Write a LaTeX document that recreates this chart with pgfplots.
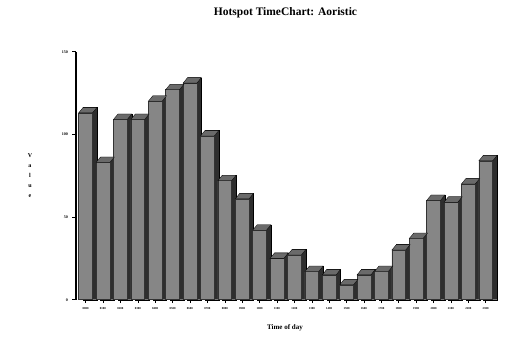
\documentclass[border=0pt]{standalone}
\usepackage{fontspec}
\setmainfont{Liberation Serif}
\usepackage{pgfplots}
\usepackage{pgfplotstable}
\pgfplotsset{compat=1.18}
\definecolor{front}{HTML}{868686}
\definecolor{side}{HTML}{2E2E2E}
\definecolor{topc}{HTML}{6A6A6A}
\pgfdeclareplotmark{bartop}{%
  \pgfpathmoveto{\pgfpoint{-6.9pt}{0pt}}%
  \pgfpathlineto{\pgfpoint{6.9pt}{0pt}}%
  \pgfpathlineto{\pgfpoint{11.4pt}{5.5pt}}%
  \pgfpathlineto{\pgfpoint{-2.4pt}{5.5pt}}%
  \pgfpathclose
  \pgfusepathqfillstroke}
\pgfplotstableread{
x v
0 113
1 83
2 109
3 109
4 120
5 127
6 131
7 99
8 72
9 61
10 42
11 25
12 27
13 17
14 15
15 9
16 15
17 17
18 30
19 37
20 60
21 59
22 70
23 84
}\datatable
\begin{document}
\begin{tikzpicture}
\begin{axis}[
  name=ax,
  scale only axis,
  width=424pt, height=248pt,
  xmin=-0.55, xmax=23.82,
  ymin=0, ymax=150,
  axis x line*=bottom,
  axis y line*=left,
  x axis line style={draw=none},
  y axis line style={draw=black, line width=1pt},
  ytick={0,50,100,150},
  xtick={0,...,23},
  xticklabels={0000,0100,0200,0300,0400,0500,0600,0700,0800,0900,1000,1100,1200,1300,1400,1500,1600,1700,1800,1900,2000,2100,2200,2300},
  tick align=outside,
  major tick length=3.5pt,
  tick style={black, line width=0.5pt},
  /pgf/number format/assume math mode=true,
  yticklabel style={font=\fontsize{4}{4}\selectfont\bfseries, xshift=-1pt},
  xticklabel style={font=\fontsize{3}{3}\selectfont\bfseries, yshift=-0.5pt},
  clip=false,
  extra description/.code={
    \draw[black, line width=1.1pt] (rel axis cs:0,0) -- (rel axis cs:0,1);
  },
]
\addplot[ybar, bar width=13.8pt, bar shift=4.5pt, fill=side, draw=black, line width=0.3pt]
  table[x=x, y expr=\thisrow{v}+3.3] {\datatable};
\addplot[ybar, bar width=13.8pt, bar shift=0pt, fill=front, draw=black!80, line width=0.5pt]
  table[x=x, y=v] {\datatable};
\addplot[only marks, mark=bartop, mark options={fill=topc, draw=black, line width=0.3pt}]
  table[x=x, y=v] {\datatable};
\end{axis}
\node[font=\fontsize{11.5}{12}\selectfont\bfseries] at ([shift={(209.5pt,38.5pt)}]ax.south west |- ax.north west) {Hotspot TimeChart: Aoristic};
\node[font=\fontsize{7}{7}\selectfont\bfseries] at ([shift={(209pt,-28pt)}]ax.south west) {Time of day};
\node[font=\fontsize{6}{10}\selectfont\bfseries, align=center] at ([shift={(-46pt,124pt)}]ax.south west) {V\\a\\l\\u\\e};
\path[use as bounding box] ([shift={(-76pt,-42pt)}]ax.south west) rectangle ([shift={(24pt,51.7pt)}]ax.north east);
\end{tikzpicture}
\end{document}
